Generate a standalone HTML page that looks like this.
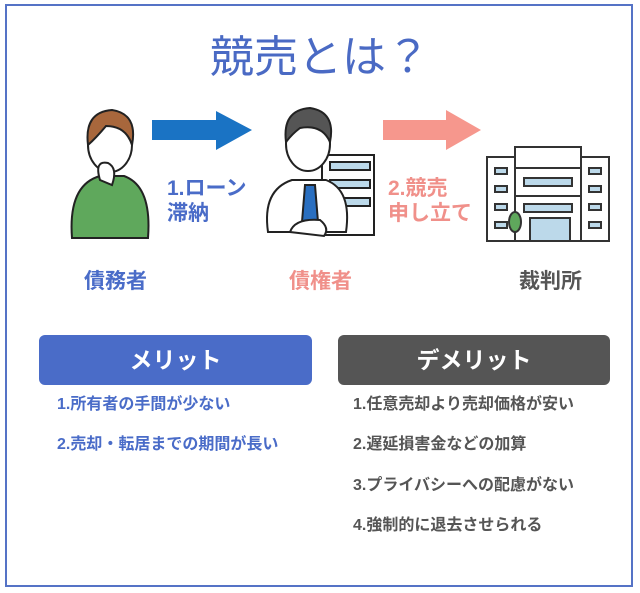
<!DOCTYPE html>
<html><head><meta charset="utf-8"><style>
body{margin:0;width:640px;height:593px;background:#fff;position:relative;overflow:hidden;font-family:"Liberation Sans","Noto Sans CJK JP",sans-serif}
.a{position:absolute;white-space:nowrap}
.b{font-weight:bold}
</style></head><body>
<div class="a" style="left:5px;top:4px;width:624px;height:579px;border:2px solid #5573c6"></div>
<div class="a" style="left:0;width:640px;top:30px;text-align:center;font-size:44px;color:#4a6ac4;line-height:56px">競売とは？</div>
<svg class="a" style="left:0;top:0" width="640" height="593">
 <polygon points="152,120 216,120 216,111 252,130 216,150 216,140 152,140" fill="#1a73c4"/>
 <polygon points="383,120 446,120 446,110 481,130 446,150 446,140 383,140" fill="#f6978d"/>
 <g stroke="#222" stroke-width="2">
  <path d="M72,238 Q68,185 100,176 L124,176 Q152,186 148,238 Z" fill="#5fa85c"/>
  <ellipse cx="110" cy="145" rx="22" ry="27" fill="#fff"/>
  <path d="M88,145 Q84,112 112,110 Q138,114 132,145 Q126,126 106,126 Q96,138 88,145Z" fill="#a8673c"/>
  <path d="M100,180 Q94,160 108,163 Q118,168 112,185 Z" fill="#fff"/>
 </g>
 <g stroke="#222" stroke-width="2" fill="#fff">
  <rect x="322" y="155" width="52" height="80"/>
  <rect x="330" y="162" width="40" height="8" fill="#bcd9ea"/>
  <rect x="330" y="180" width="40" height="8" fill="#bcd9ea"/>
  <rect x="330" y="198" width="40" height="8" fill="#bcd9ea"/>
 </g>
 <g stroke="#222" stroke-width="2">
  <path d="M268,232 Q262,190 292,180 L326,180 Q352,190 346,232 Z" fill="#fff"/>
  <polygon points="305,185 315,185 318,222 310,228 302,222" fill="#2a6fc0"/>
  <ellipse cx="308" cy="144" rx="22" ry="27" fill="#fff"/>
  <path d="M286,142 Q282,110 310,108 Q336,112 330,142 Q322,124 300,128 Q292,134 286,142Z" fill="#555"/>
  <path d="M290,232 Q295,218 320,220 Q330,228 324,236 Z" fill="#fff"/>
 </g>
 <g stroke="#333" stroke-width="2" fill="#fff">
  <rect x="487" y="157" width="122" height="84"/>
  <rect x="515" y="147" width="66" height="94"/>
  <line x1="515" y1="168" x2="581" y2="168"/>
  <line x1="515" y1="196" x2="581" y2="196"/>
  <g fill="#bcd9ea">
   <rect x="495" y="168" width="12" height="6"/><rect x="495" y="186" width="12" height="6"/><rect x="495" y="204" width="12" height="6"/><rect x="495" y="222" width="12" height="6"/>
   <rect x="589" y="168" width="12" height="6"/><rect x="589" y="186" width="12" height="6"/><rect x="589" y="204" width="12" height="6"/><rect x="589" y="222" width="12" height="6"/>
   <rect x="524" y="178" width="48" height="8"/><rect x="524" y="204" width="48" height="8"/>
   <rect x="530" y="218" width="40" height="23"/>
  </g>
  <ellipse cx="515" cy="222" rx="6" ry="10" fill="#5fa85c"/>
 </g>
</svg>
<div class="a b" style="left:167px;top:176px;font-size:21px;line-height:25px;color:#4a6cc8">1.ローン<br>滞納</div>
<div class="a b" style="left:388px;top:176px;font-size:21px;line-height:25px;color:#f0908a">2.競売<br>申し立て</div>
<div class="a b" style="left:84px;top:265px;font-size:21px;color:#4a6cc8">債務者</div>
<div class="a b" style="left:289px;top:265px;font-size:21px;color:#f0908a">債権者</div>
<div class="a b" style="left:519px;top:265px;font-size:21px;color:#555">裁判所</div>
<div class="a b" style="left:39px;top:335px;width:273px;height:50px;border-radius:6px;background:#4a6cc8;color:#fff;font-size:23px;line-height:50px;text-align:center">メリット</div>
<div class="a b" style="left:338px;top:335px;width:272px;height:50px;border-radius:6px;background:#555;color:#fff;font-size:23px;line-height:50px;text-align:center">デメリット</div>
<div class="a b" style="left:57px;top:395px;font-size:16px;line-height:20px;color:#4a6cc8">1.所有者の手間が少ない</div>
<div class="a b" style="left:57px;top:435px;font-size:16px;line-height:20px;color:#4a6cc8">2.売却・転居までの期間が長い</div>
<div class="a b" style="left:353px;top:395px;font-size:16px;line-height:20px;color:#555">1.任意売却より売却価格が安い</div>
<div class="a b" style="left:353px;top:435px;font-size:16px;line-height:20px;color:#555">2.遅延損害金などの加算</div>
<div class="a b" style="left:353px;top:476px;font-size:16px;line-height:20px;color:#555">3.プライバシーへの配慮がない</div>
<div class="a b" style="left:353px;top:516px;font-size:16px;line-height:20px;color:#555">4.強制的に退去させられる</div>
</body></html>
